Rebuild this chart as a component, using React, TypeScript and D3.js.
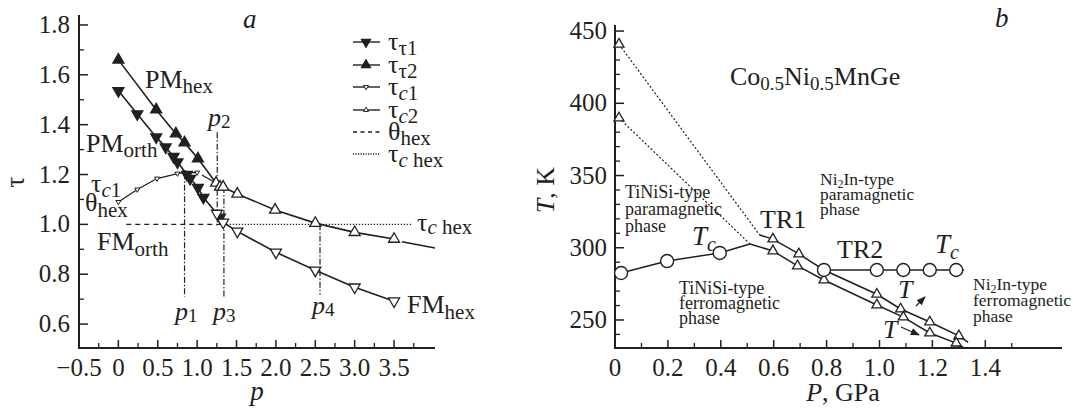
import * as d3 from 'd3';

const FONT = '"Liberation Serif", "Times New Roman", Times, serif';
const INK = '#231f20';

// ---- panel a: tau vs p ----
const t1FilledP = [0, 0.24, 0.48, 0.6, 0.7, 0.75, 0.87, 0.91, 1.01, 1.08, 1.29];
const t1FilledV = [1.536, 1.443, 1.35, 1.31, 1.272, 1.25, 1.2, 1.184, 1.148, 1.108, 1.028];
const t1HexP = [1.25, 1.33, 1.51, 2.0, 2.5, 3.0, 3.5];
const t1HexV = [1.044, 1.008, 0.972, 0.888, 0.816, 0.748, 0.692];

const t2FilledP = [0, 0.48, 0.73, 0.84, 1.01];
const t2FilledV = [1.66, 1.46, 1.364, 1.328, 1.264];
const t2HexP = [1.24, 1.29, 1.33, 1.51, 1.99, 2.5, 3.0, 3.5];
const t2HexV = [1.166, 1.15, 1.15, 1.122, 1.058, 1.005, 0.968, 0.941];
const t2TailP = [3.6, 4.02];
const t2TailV = [0.93, 0.905];

const c1P = [0, 0.24, 0.49, 0.75, 0.84, 1.0];
const c1V = [1.09, 1.14, 1.184, 1.204, 1.208, 1.208];
const c2P = [1.06, 1.24];
const c2V = [1.198, 1.166];

const thetaHexP = [0.1, 1.3];
const tauChexP = [1.3, 3.73];
const hexLevel = 1.0;

// vertical p_i markers: position, top, bottom
const pNames = ['1', '2', '3', '4'];
const pPos = [0.84, 1.255, 1.34, 2.56];
const pTop = [1.205, 1.37, 1.15, 1.0];
const pBottom = [0.71, 0.995, 0.71, 0.718];

const xTicksA = [-0.5, 0, 0.5, 1.0, 1.5, 2.0, 2.5, 3.0, 3.5];
const xTickLabelsA = ['\u22120.5', '0', '0.5', '1.0', '1.5', '2.0', '2.5', '3.0', '3.5'];
const yTicksA = [0.6, 0.8, 1.0, 1.2, 1.4, 1.6, 1.8];

// ---- panel b: T vs P ----
const tcLowP = [0.023, 0.197, 0.396];
const tcLowT = [282.5, 290.8, 296.4];
const tcLowLineP = [0, 0.023, 0.197, 0.396, 0.51];
const tcLowLineT = [281.4, 282.5, 290.8, 296.4, 302.6];

const paraUpperP = [0.015, 0.547];
const paraUpperT = [440.9, 308.8];
const paraLowerP = [0.015, 0.51];
const paraLowerT = [389.8, 302.6];

const trUpperP = [0.547, 0.597, 0.695, 0.79, 0.99, 1.08, 1.19, 1.3, 1.335];
const trUpperT = [308.8, 306, 295.7, 284.6, 267.8, 257.6, 248.6, 239, 234.5];
const trUpperMarkP = [0.597, 0.695, 0.99, 1.08, 1.19, 1.3];
const trUpperMarkT = [306, 295.7, 267.8, 257.6, 248.6, 239];

const trLowerP = [0.51, 0.597, 0.69, 0.79, 0.99, 1.09, 1.19, 1.29, 1.32];
const trLowerT = [302.6, 297.8, 287.4, 277.7, 260.4, 252, 241, 234, 230.6];
const trLowerMarkP = [0.597, 0.69, 0.79, 0.99, 1.09, 1.19, 1.29];
const trLowerMarkT = [297.8, 287.4, 277.7, 260.4, 252, 241, 234];

const tcHighP = [0.79, 0.99, 1.09, 1.19, 1.29];
const tcHighT = [284.6, 284.6, 284.6, 284.6, 284.6];
const tcHighLineEnd = 1.32;

const xTicksB = [0, 0.2, 0.4, 0.6, 0.8, 1.0, 1.2, 1.4];
const xTickLabelsB = ['0', '0.2', '0.4', '0.6', '0.8', '1.0', '1.2', '1.4'];
const yTicksB = [250, 300, 350, 400, 450];

const xA = d3.scaleLinear().domain([-0.5, 4.02]).range([79, 435]);
const yA = d3.scaleLinear().domain([0.504, 1.84]).range([348, 15]);
const xB = d3.scaleLinear().domain([0, 1.69]).range([615, 1062]);
const yB = d3.scaleLinear().domain([230.6, 454.2]).range([348, 25]);

const zip = (a: number[], b: number[]) => a.map((v, i) => [v, b[i]] as [number, number]);
const tri = (side: number) =>
  d3.symbol(d3.symbolTriangle, (Math.sqrt(3) / 4) * side * side)() as string;

const lineA = d3.line<[number, number]>().x((d) => xA(d[0])).y((d) => yA(d[1]));
const lineB = d3.line<[number, number]>().x((d) => xB(d[0])).y((d) => yB(d[1]));

function Tri({ x, y, side, down, filled, sw = 1.3 }: any) {
  return (
    <path
      d={tri(side)}
      transform={`translate(${x},${y})${down ? ' rotate(180)' : ''}`}
      fill={filled ? INK : '#fff'}
      stroke={INK}
      strokeWidth={sw}
    />
  );
}

function PanelA() {
  const t1All = zip(t1FilledP, t1FilledV)
    .concat(zip(t1HexP, t1HexV))
    .sort((a, b) => a[0] - b[0]);
  const t2All = zip(t2FilledP, t2FilledV).concat(zip(t2HexP, t2HexV));
  const minorX = d3.range(-0.25, 3.8, 0.25).filter((v) => Math.abs((v * 2) % 1) > 0.01);
  const minorY = [0.7, 0.9, 1.1, 1.3, 1.5, 1.7];
  const legend = [
    { sub: '\u03c41', kind: 'fdown' },
    { sub: '\u03c42', kind: 'fup' },
    { sub: 'c1', kind: 'odown' },
    { sub: 'c2', kind: 'oup' },
    { sub: 'hex', kind: 'dash' },
    { sub: 'chex', kind: 'dot' },
  ];
  const legY = [42, 65, 87, 110, 132, 154];
  return (
    <g>
      {/* axes */}
      <line x1={79} x2={79} y1={15} y2={349} stroke={INK} strokeWidth={2} />
      <line x1={78} x2={435} y1={348} y2={348} stroke={INK} strokeWidth={2} />
      {xTicksA.slice(1).map((v) => (
        <line key={'xt' + v} x1={xA(v)} x2={xA(v)} y1={348} y2={340} stroke={INK} strokeWidth={1.5} />
      ))}
      {minorX.map((v) => (
        <line key={'xm' + v} x1={xA(v)} x2={xA(v)} y1={348} y2={343} stroke={INK} strokeWidth={1.3} />
      ))}
      {yTicksA.map((v) => (
        <line key={'yt' + v} x1={79} x2={88} y1={yA(v)} y2={yA(v)} stroke={INK} strokeWidth={1.5} />
      ))}
      {minorY.map((v) => (
        <line key={'ym' + v} x1={79} x2={84} y1={yA(v)} y2={yA(v)} stroke={INK} strokeWidth={1.3} />
      ))}
      {xTicksA.map((v, i) => (
        <text key={'xl' + v} x={xA(v)} y={376} textAnchor="middle" fontSize={25}>
          {xTickLabelsA[i]}
        </text>
      ))}
      {yTicksA.map((v) => (
        <text key={'yl' + v} x={70} y={yA(v) + 8} textAnchor="end" fontSize={25}>
          {v.toFixed(1)}
        </text>
      ))}
      <text x={257} y={400} fontSize={27} fontStyle="italic" textAnchor="middle">p</text>
      <text transform="translate(24,182) rotate(-90)" fontSize={27} textAnchor="middle">τ</text>
      <text x={243} y={28} fontSize={27} fontStyle="italic">a</text>

      {/* reference lines */}
      <line x1={xA(thetaHexP[0])} x2={xA(thetaHexP[1])} y1={yA(hexLevel)} y2={yA(hexLevel)}
        stroke={INK} strokeWidth={1.3} strokeDasharray="5,4" />
      <line x1={xA(tauChexP[0])} x2={xA(tauChexP[1])} y1={yA(hexLevel)} y2={yA(hexLevel)}
        stroke={INK} strokeWidth={1.3} strokeDasharray="1.3,1.7" />
      {pPos.map((p, i) => (
        <g key={'pm' + i}>
          <line x1={xA(p)} x2={xA(p)} y1={yA(pTop[i])} y2={yA(pBottom[i])}
            stroke={INK} strokeWidth={1.2} strokeDasharray="6,2,1.5,2" />
        </g>
      ))}

      {/* series lines */}
      <path d={lineA(t1All) as string} fill="none" stroke={INK} strokeWidth={1.6} />
      <path d={lineA(t2All) as string} fill="none" stroke={INK} strokeWidth={1.6} />
      <path d={lineA(zip(t2TailP, t2TailV)) as string} fill="none" stroke={INK} strokeWidth={1.6} />
      <path d={lineA(zip(c1P, c1V)) as string} fill="none" stroke={INK} strokeWidth={1.3} />
      <path d={lineA(zip(c2P, c2V)) as string} fill="none" stroke={INK} strokeWidth={1.3} />

      {/* markers */}
      {c1P.map((p, i) => (
        <Tri key={'c1' + i} x={xA(p)} y={yA(c1V[i])} side={5} down sw={1} />
      ))}
      {t1FilledP.map((p, i) => (
        <Tri key={'t1f' + i} x={xA(p)} y={yA(t1FilledV[i])} side={11} down filled />
      ))}
      {t1HexP.map((p, i) => (
        <Tri key={'t1h' + i} x={xA(p)} y={yA(t1HexV[i])} side={11} down />
      ))}
      {t2FilledP.map((p, i) => (
        <Tri key={'t2f' + i} x={xA(p)} y={yA(t2FilledV[i])} side={11} filled />
      ))}
      {t2HexP.map((p, i) => (
        <Tri key={'t2h' + i} x={xA(p)} y={yA(t2HexV[i])} side={11} />
      ))}

      {/* curve labels */}
      <text x={145} y={88} fontSize={26}>PM<tspan fontSize={21} dy={5}>hex</tspan></text>
      <text x={86} y={152} fontSize={26}>PM<tspan fontSize={21} dy={5}>orth</tspan></text>
      <text x={91} y={192} fontSize={26}>τ<tspan fontSize={21} dy={5}><tspan fontStyle="italic">c</tspan>1</tspan></text>
      <text x={85} y={211} fontSize={26}>θ<tspan fontSize={21} dy={6}>hex</tspan></text>
      <text x={97} y={250} fontSize={26}>FM<tspan fontSize={21} dy={6}>orth</tspan></text>
      <text x={407} y={313} fontSize={26}>FM<tspan fontSize={21} dy={6}>hex</tspan></text>
      <text x={417} y={231} fontSize={26}>τ<tspan fontSize={21} dy={3}><tspan fontStyle="italic">c</tspan>{' hex'}</tspan></text>
      {pNames.map((n, i) => {
        const ly = [320, 126, 320, 314][i];
        const lx = [175, 208, 213, 312][i];
        return (
          <text key={'pl' + n} x={lx} y={ly} fontSize={26} fontStyle="italic">
            p<tspan fontStyle="normal" fontSize={19} dy={2}>{n}</tspan>
          </text>
        );
      })}

      {/* legend */}
      {legend.map((r, i) => {
        const y = legY[i];
        return (
          <g key={'lg' + i}>
            <line x1={353} x2={380} y1={y} y2={y} stroke={INK} strokeWidth={1.4}
              strokeDasharray={r.kind === 'dash' ? '4,3.5' : r.kind === 'dot' ? '1.2,1.3' : undefined} />
            {r.kind === 'fdown' && <Tri x={366} y={y} side={9} down filled />}
            {r.kind === 'fup' && <Tri x={366} y={y} side={9} filled />}
            {r.kind === 'odown' && <Tri x={366} y={y} side={5} down sw={1} />}
            {r.kind === 'oup' && <Tri x={366} y={y} side={5} sw={1} />}
            <text x={388} y={y + 8} fontSize={26}>
              {r.kind === 'dash' ? 'θ' : 'τ'}
              <tspan fontSize={21} dy={5}>
                {r.sub.startsWith('c') ? (
                  <>
                    <tspan fontStyle="italic">c</tspan>
                    {r.sub === 'chex' ? ' hex' : r.sub.slice(1)}
                  </>
                ) : (
                  r.sub
                )}
              </tspan>
            </text>
          </g>
        );
      })}
    </g>
  );
}

function PanelB() {
  const minorX = d3.range(0.1, 1.65, 0.2);
  const minorY = d3.range(240, 451, 10).filter((v) => v % 50 !== 0);
  return (
    <g>
      <defs>
        <marker id="arr" viewBox="0 0 10 10" refX={9} refY={5} markerWidth={7} markerHeight={7} orient="auto">
          <path d="M0,1 L10,5 L0,9 z" fill={INK} />
        </marker>
      </defs>
      <line x1={615} x2={615} y1={25} y2={349} stroke={INK} strokeWidth={2} />
      <line x1={614} x2={1062} y1={348} y2={348} stroke={INK} strokeWidth={2} />
      {xTicksB.slice(1).map((v) => (
        <line key={'bxt' + v} x1={xB(v)} x2={xB(v)} y1={348} y2={340} stroke={INK} strokeWidth={1.5} />
      ))}
      {minorX.map((v) => (
        <line key={'bxm' + v} x1={xB(v)} x2={xB(v)} y1={348} y2={343} stroke={INK} strokeWidth={1.3} />
      ))}
      {yTicksB.map((v) => (
        <line key={'byt' + v} x1={615} x2={624} y1={yB(v)} y2={yB(v)} stroke={INK} strokeWidth={1.5} />
      ))}
      {minorY.map((v) => (
        <line key={'bym' + v} x1={615} x2={620} y1={yB(v)} y2={yB(v)} stroke={INK} strokeWidth={1.3} />
      ))}
      {xTicksB.map((v, i) => (
        <text key={'bxl' + v} x={xB(v)} y={376} textAnchor="middle" fontSize={25}>
          {xTickLabelsB[i]}
        </text>
      ))}
      {yTicksB.map((v) => (
        <text key={'byl' + v} x={607} y={yB(v) + 8} textAnchor="end" fontSize={25}>
          {v}
        </text>
      ))}
      <text x={843} y={401} fontSize={26} textAnchor="middle">
        <tspan fontStyle="italic">P</tspan>, GPa
      </text>
      <text transform="translate(554,190) rotate(-90)" fontSize={26} textAnchor="middle">
        <tspan fontStyle="italic">T</tspan>, K
      </text>
      <text x={995} y={27} fontSize={27} fontStyle="italic">b</text>
      <text x={730} y={85} fontSize={26}>
        Co<tspan fontSize={19} dy={5}>0.5</tspan><tspan dy={-5}>Ni</tspan>
        <tspan fontSize={19} dy={5}>0.5</tspan><tspan dy={-5}>MnGe</tspan>
      </text>

      {/* dotted paramagnetic boundaries */}
      <path d={lineB(zip(paraUpperP, paraUpperT)) as string} fill="none" stroke={INK} strokeWidth={1.2} strokeDasharray="2,2" />
      <path d={lineB(zip(paraLowerP, paraLowerT)) as string} fill="none" stroke={INK} strokeWidth={1.2} strokeDasharray="2,2" />
      <path d={lineB(zip(tcLowLineP, tcLowLineT)) as string} fill="none" stroke={INK} strokeWidth={1.5} />
      <path d={lineB(zip(trUpperP, trUpperT)) as string} fill="none" stroke={INK} strokeWidth={1.5} />
      <path d={lineB(zip(trLowerP, trLowerT)) as string} fill="none" stroke={INK} strokeWidth={1.5} />
      <line x1={xB(tcHighP[0])} x2={xB(tcHighLineEnd)} y1={yB(tcHighT[0])} y2={yB(tcHighT[0])} stroke={INK} strokeWidth={1.5} />

      {[0, 1].map((i) => (
        <Tri key={'pt' + i} x={xB(paraUpperP[0])} y={yB([paraUpperT[0], paraLowerT[0]][i])} side={10} />
      ))}
      {trUpperMarkP.map((p, i) => (
        <Tri key={'tu' + i} x={xB(p)} y={yB(trUpperMarkT[i])} side={10} />
      ))}
      {trLowerMarkP.map((p, i) => (
        <Tri key={'tl' + i} x={xB(p)} y={yB(trLowerMarkT[i])} side={10} />
      ))}
      {tcLowP.map((p, i) => (
        <circle key={'cl' + i} cx={xB(p)} cy={yB(tcLowT[i])} r={6.5} fill="#fff" stroke={INK} strokeWidth={1.4} />
      ))}
      {tcHighP.map((p, i) => (
        <circle key={'ch' + i} cx={xB(p)} cy={yB(tcHighT[i])} r={6.5} fill="#fff" stroke={INK} strokeWidth={1.4} />
      ))}

      <text x={760} y={228} fontSize={26}>TR1</text>
      <text x={837} y={258} fontSize={26}>TR2</text>
      <text x={692} y={245} fontSize={27} fontStyle="italic">T<tspan fontSize={20} dy={6}>c</tspan></text>
      <text x={935} y={253} fontSize={27} fontStyle="italic">T<tspan fontSize={20} dy={6}>c</tspan></text>

      <g fontSize={18}>
        <text x={625} y={198}>TiNiSi-type</text>
        <text x={625} y={215}>paramagnetic</text>
        <text x={625} y={232}>phase</text>
        <text x={679} y={294}>TiNiSi-type</text>
        <text x={679} y={309}>ferromagnetic</text>
        <text x={679} y={324}>phase</text>
      </g>
      <g fontSize={17.5}>
        <text x={820} y={185}>Ni<tspan fontSize={12} dy={3}>2</tspan><tspan dy={-3}>In-type</tspan></text>
        <text x={820} y={200}>paramagnetic</text>
        <text x={820} y={215}>phase</text>
        <text x={973} y={290}>Ni<tspan fontSize={12} dy={3}>2</tspan><tspan dy={-3}>In-type</tspan></text>
        <text x={973} y={306}>ferromagnetic</text>
        <text x={973} y={322}>phase</text>
      </g>

      <text x={898} y={298} fontSize={26} fontStyle="italic">T</text>
      <line x1={916} y1={306} x2={925} y2={297} stroke={INK} strokeWidth={1.3} markerEnd="url(#arr)" />
      <text x={883} y={338} fontSize={26} fontStyle="italic">T</text>
      <line x1={901} y1={327} x2={919} y2={335} stroke={INK} strokeWidth={1.3} markerEnd="url(#arr)" />
    </g>
  );
}

export default function App() {
  return (
    <svg
      width={1073}
      height={412}
      style={{ position: 'absolute', left: 0, top: 0, background: '#fff' }}
      fontFamily={FONT}
      fill={INK}
    >
      <rect width={1073} height={412} fill="#fff" />
      <PanelA />
      <PanelB />
    </svg>
  );
}
